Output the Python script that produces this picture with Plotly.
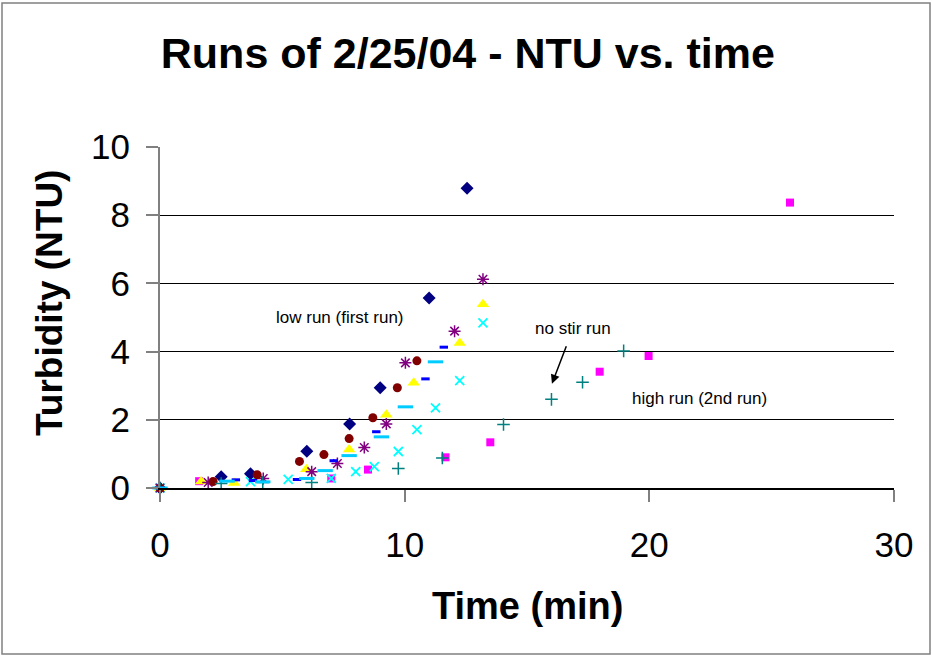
import plotly.graph_objects as go

# Turbidity runs of 2/25/04: time (min) and turbidity (NTU) for each run
t1 = [0, 2.5, 3.7, 6.0, 7.75, 9.0, 11.0, 12.55]
n1 = [0, 0.33, 0.42, 1.08, 1.88, 2.94, 5.57, 8.79]

t2 = [0, 1.6, 7.0, 8.5, 11.67, 13.5, 17.97, 19.97, 25.75]
n2 = [0, 0.2, 0.28, 0.54, 0.9, 1.34, 3.41, 3.87, 8.37]

t3 = [0, 1.68, 3.03, 5.98, 7.73, 9.25, 10.37, 12.25, 13.2]
n3 = [0, 0.19, 0.15, 0.55, 1.13, 2.15, 3.09, 4.25, 5.39]

t4 = [0, 3.7, 5.24, 7.0, 8.0, 8.76, 9.74, 10.5, 11.26, 12.25, 13.2]
n4 = [0, 0.19, 0.25, 0.28, 0.48, 0.63, 1.07, 1.71, 2.35, 3.15, 4.84]

t5 = [0, 1.97, 4.22, 6.2, 7.25, 8.35, 9.25, 10.03, 12.04, 13.2]
n5 = [0, 0.16, 0.28, 0.48, 0.72, 1.19, 1.88, 3.67, 4.6, 6.12]

t6 = [0, 2.17, 3.97, 5.7, 6.7, 7.73, 8.7, 9.7, 10.5]
n6 = [0, 0.19, 0.39, 0.78, 0.98, 1.45, 2.06, 2.94, 3.73]

t7 = [0, 2.5, 4.2, 6.2, 9.74, 11.54, 14.04, 16.0, 17.27, 18.95]
n7 = [0, 0.13, 0.16, 0.16, 0.57, 0.88, 1.86, 2.6, 3.1, 4.02]

t8 = [0, 3.1, 3.8, 5.6, 7.1, 8.84, 10.85, 11.6]
n8 = [0, 0.24, 0.22, 0.25, 0.8, 1.65, 3.2, 4.13]

t9 = [0, 2.74, 4.2, 6.0, 6.75, 7.73, 9.05, 10.03, 11.26]
n9 = [0, 0.2, 0.18, 0.28, 0.51, 0.95, 1.5, 2.38, 3.7]

x_ticks = [0, 10, 20, 30]
y_ticks = [0, 2, 4, 6, 8, 10]

FONT = "Arial, Liberation Sans, sans-serif"

series = [
    (t1, n1, dict(symbol="diamond", size=10, color="#000080")),
    (t2, n2, dict(symbol="square", size=8, color="#FF00FF")),
    (t3, n3, dict(symbol="triangle-up", size=11, color="#FFFF00")),
    (t4, n4, dict(symbol="x-thin", size=9, color="#00FFFF",
                  line=dict(width=1.8, color="#00FFFF"))),
    (t5, n5, dict(symbol="asterisk", size=10, color="#800080",
                  line=dict(width=1.5, color="#800080"))),
    (t6, n6, dict(symbol="circle", size=9, color="#800000")),
    (t7, n7, dict(symbol="cross-thin", size=9, color="#008080",
                  line=dict(width=1.5, color="#008080"))),
    (t8, n8, dict(symbol="line-ew", size=6, color="#0000FF",
                  line=dict(width=3, color="#0000FF"))),
    (t9, n9, dict(symbol="line-ew", size=11, color="#00CCFF",
                  line=dict(width=3, color="#00CCFF"))),
]

fig = go.Figure()
for tx, ny, mk in series:
    fig.add_trace(go.Scatter(x=tx, y=ny, mode="markers", marker=mk,
                             showlegend=False, cliponaxis=False))

W, H = 932, 657
L, R, T, B = 160, 38, 146.5, 168.5
pw, ph = W - L - R, H - T - B

fig.update_layout(
    width=W, height=H,
    margin=dict(l=L, r=R, t=T, b=B),
    paper_bgcolor="white", plot_bgcolor="white",
    font=dict(family=FONT, color="black"),
    title=dict(text="<b>Runs of 2/25/04 - NTU vs. time</b>",
               font=dict(size=43, family=FONT, color="black"),
               x=0.502, xref="container", xanchor="center",
               y=1 - 53 / H, yref="container", yanchor="middle"),
    xaxis=dict(range=[0, 30], tickvals=x_ticks, ticks="outside", ticklen=12,
               tickcolor="#808080", tickwidth=1.5,
               showline=True, linecolor="black", linewidth=1.5,
               showgrid=False, zeroline=False,
               tickfont=dict(size=35, family=FONT), ticklabelstandoff=13),
    yaxis=dict(range=[0, 10], tickvals=y_ticks, ticks="outside", ticklen=12,
               tickcolor="#808080", tickwidth=1.5,
               showline=True, linecolor="#808080", linewidth=2,
               showgrid=True, gridcolor="black", gridwidth=1,
               zeroline=False,
               tickfont=dict(size=35, family=FONT), ticklabelstandoff=9),
)

# axis titles
fig.add_annotation(text="<b>Time (min)</b>", xref="paper", yref="paper",
                   x=0.5, y=(488.5 - 607) / ph, showarrow=False,
                   font=dict(size=38, family=FONT), xanchor="center", yanchor="middle")
fig.add_annotation(text="<b>Turbidity (NTU)</b>", xref="paper", yref="paper",
                   x=(49 - L) / pw, y=(488.5 - 303) / ph, textangle=-90, showarrow=False,
                   font=dict(size=37, family=FONT), xanchor="center", yanchor="middle")

# run labels
lab_font = dict(size=17, family=FONT, color="black")
fig.add_annotation(text="low run (first run)", x=7.36, y=5.01, showarrow=False, font=lab_font)
fig.add_annotation(text="no stir run", x=16.86, y=4.69, showarrow=False, font=lab_font)
fig.add_annotation(text="high run (2nd run)", x=22.07, y=2.62, showarrow=False, font=lab_font)
fig.add_annotation(x=16.02, y=3.06, ax=16.63, ay=4.2, axref="x", ayref="y",
                   text="", showarrow=True, arrowhead=2, arrowsize=1.2,
                   arrowwidth=1.5, arrowcolor="black")

# chart frame
fig.add_shape(type="rect", xref="paper", yref="paper",
              x0=(2 - L) / pw, x1=(930 - L) / pw,
              y0=(488.5 - 655) / ph, y1=(488.5 - 2) / ph,
              line=dict(color="#808080", width=1.5), fillcolor="rgba(0,0,0,0)")

fig.write_html("out.html")
